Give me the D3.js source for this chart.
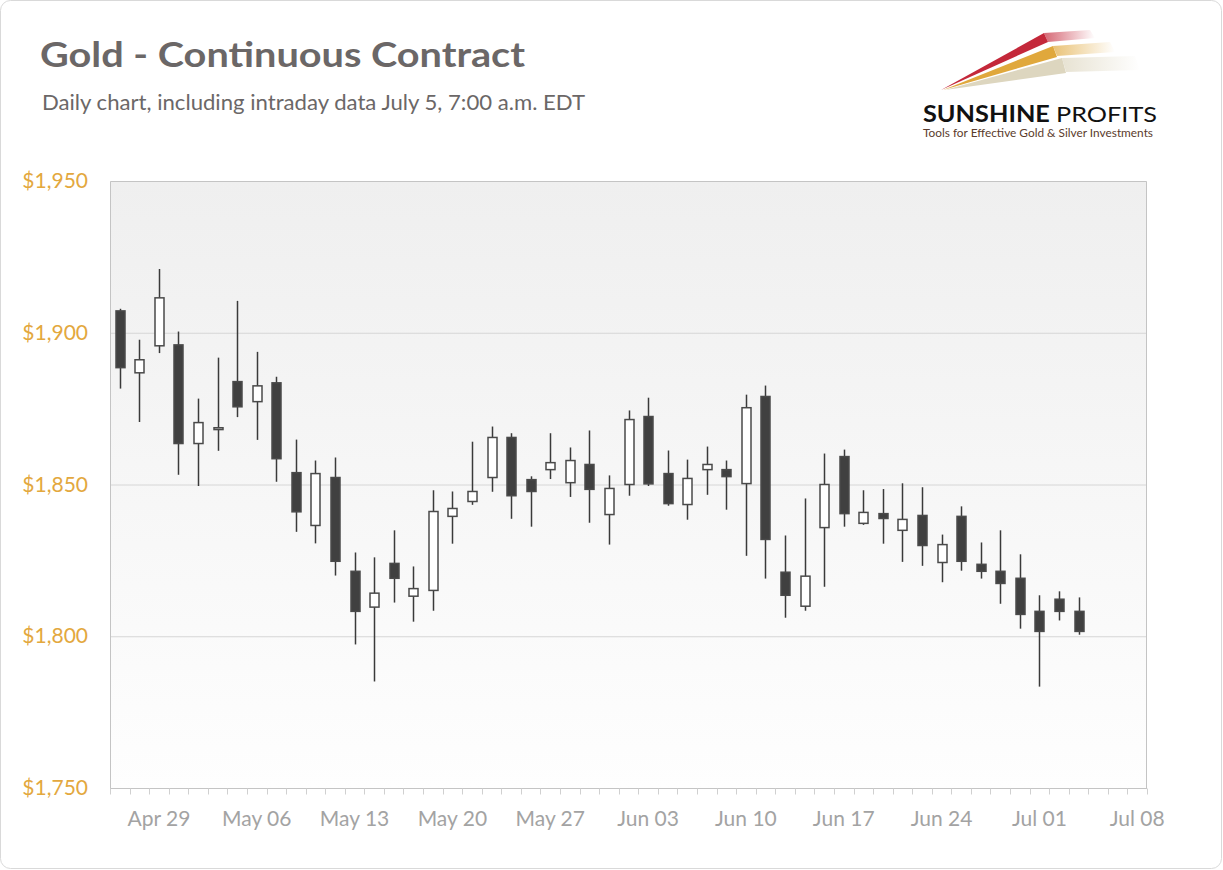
<!DOCTYPE html>
<html>
<head>
<meta charset="utf-8">
<script src="https://cdn.jsdelivr.net/npm/d3@7"></script>
<style>
  body { margin: 0; background: #fff; }
  svg { display: block; font-family: Lato, "Open Sans", sans-serif; }
</style>
</head>
<body>
<div id="chart"></div>
<script>
// --- Data ---
const dates = ["Apr 27","Apr 28","Apr 29","May 02","May 03","May 04","May 05","May 06",
  "May 09","May 10","May 11","May 12","May 13","May 16","May 17","May 18","May 19","May 20",
  "May 23","May 24","May 25","May 26","May 27","May 30","May 31","Jun 01","Jun 02","Jun 03",
  "Jun 06","Jun 07","Jun 08","Jun 09","Jun 10","Jun 13","Jun 14","Jun 15","Jun 16","Jun 17",
  "Jun 20","Jun 21","Jun 22","Jun 23","Jun 24","Jun 27","Jun 28","Jun 29","Jun 30","Jul 01",
  "Jul 04","Jul 05"];
const open  = [1907.2,1886.8,1895.7,1896.0,1863.5,1868.1,1883.9,1877.3,1883.5,1853.9,1836.5,1852.3,1821.4,1809.6,1824.0,1813.2,1815.1,1839.5,1844.4,1852.3,1865.5,1851.6,1854.9,1850.6,1856.6,1840.1,1850.0,1872.4,1853.6,1843.4,1854.9,1854.9,1850.3,1879.0,1821.1,1809.9,1835.8,1859.2,1837.2,1840.4,1834.9,1839.8,1824.3,1839.5,1823.7,1821.4,1819.1,1808.2,1812.2,1808.2];
const high  = [1907.9,1897.7,1921.0,1900.4,1878.3,1891.8,1910.5,1893.7,1885.5,1864.8,1857.9,1858.9,1827.6,1826.0,1834.9,1823.0,1848.1,1847.7,1864.1,1869.1,1866.9,1852.7,1866.9,1862.2,1867.8,1853.0,1874.4,1878.6,1861.2,1858.2,1862.5,1857.9,1879.6,1882.6,1833.2,1845.4,1860.2,1861.5,1848.1,1848.5,1850.4,1849.1,1833.5,1842.8,1830.9,1834.9,1827.0,1813.5,1814.8,1812.8];
const low   = [1881.6,1870.6,1893.3,1853.2,1849.5,1861.1,1872.2,1864.7,1850.9,1834.4,1830.6,1820.0,1797.3,1785.1,1811.1,1804.8,1808.4,1830.5,1843.3,1847.6,1838.7,1836.1,1851.8,1845.9,1837.4,1830.2,1846.3,1849.5,1843.0,1838.4,1846.6,1841.7,1826.5,1819.0,1806.1,1808.4,1816.3,1836.1,1836.7,1830.5,1824.5,1823.2,1817.8,1821.6,1819.0,1810.7,1802.5,1783.4,1805.2,1800.5];
const close = [1888.5,1891.1,1911.5,1863.5,1870.4,1868.7,1875.6,1882.5,1858.5,1841.0,1853.6,1824.7,1808.2,1814.2,1819.1,1815.7,1841.1,1842.1,1847.7,1865.5,1846.3,1847.7,1857.2,1857.9,1848.4,1848.7,1871.4,1850.2,1843.7,1852.0,1856.6,1852.6,1875.3,1831.9,1813.5,1819.8,1850.0,1840.4,1840.8,1838.8,1838.5,1829.9,1830.2,1824.7,1821.4,1817.4,1807.2,1801.6,1808.2,1801.6];

const tickIndex = [2,7,12,17,22,27,32,37,42,47,52];
const tickLabels = ["Apr 29","May 06","May 13","May 20","May 27","Jun 03","Jun 10","Jun 17","Jun 24","Jul 01","Jul 08"];
const priceTicks = [1750,1800,1850,1900,1950];

const candles = dates.map((d, i) => ({ i, date: d, o: open[i], h: high[i], l: low[i], c: close[i] }));

// --- Setup ---
const W = 1223, H = 870;
const plot = { left: 110, right: 1147, top: 181, bottom: 788 };
const svg = d3.select('#chart').append('svg').attr('width', W).attr('height', H);
const defs = svg.append('defs');

const x = d3.scaleLinear().domain([-0.5, 52.5]).range([plot.left, plot.right]);
const y = d3.scaleLinear().domain([1750, 1950]).range([plot.bottom, plot.top]);

// outer frame
svg.append('rect').attr('x', 0.5).attr('y', 0.5).attr('width', W - 2).attr('height', H - 2)
  .attr('rx', 10).attr('fill', '#fff').attr('stroke', '#d9d9d9');

// plot background gradient
const bg = defs.append('linearGradient').attr('id', 'bg').attr('x1', 0).attr('y1', 0).attr('x2', 0).attr('y2', 1);
bg.append('stop').attr('offset', 0).attr('stop-color', '#efefef');
bg.append('stop').attr('offset', 1).attr('stop-color', '#fefefe');
svg.append('rect').attr('x', plot.left).attr('y', plot.top)
  .attr('width', plot.right - plot.left).attr('height', plot.bottom - plot.top)
  .attr('fill', 'url(#bg)');

// gridlines
svg.append('g').selectAll('line').data(priceTicks.slice(1, -1)).join('line')
  .attr('x1', plot.left).attr('x2', plot.right)
  .attr('y1', d => y(d) + 0.5).attr('y2', d => y(d) + 0.5)
  .attr('stroke', '#d6d6d6');

// plot border
svg.append('path')
  .attr('d', `M${plot.left + 0.5},${plot.bottom} V${plot.top + 0.5} H${plot.right - 0.5} V${plot.bottom}`)
  .attr('fill', 'none').attr('stroke', '#c4c4c4');
svg.append('line').attr('x1', plot.left).attr('x2', plot.right)
  .attr('y1', plot.bottom + 0.5).attr('y2', plot.bottom + 0.5).attr('stroke', '#c4c4c4');

// x axis: minor ticks between sessions, labels on Fridays
const xAxis = svg.append('g').attr('transform', `translate(0,${plot.bottom + 0.5})`);
xAxis.selectAll('line').data(d3.range(-0.5, 53, 1)).join('line')
  .attr('x1', d => Math.round(x(d)) + 0.5).attr('x2', d => Math.round(x(d)) + 0.5)
  .attr('y1', 0).attr('y2', 6).attr('stroke', '#d0d0d0');
xAxis.selectAll('text').data(tickIndex).join('text')
  .attr('x', d => x(d)).attr('y', 37)
  .attr('text-anchor', 'middle').attr('fill', '#a3a3a3')
  .style('font-size', '21px')
  .text((d, k) => tickLabels[k]);

// y axis labels
svg.append('g').selectAll('text').data(priceTicks).join('text')
  .attr('x', 88).attr('y', d => y(d) + 7)
  .attr('text-anchor', 'end').attr('fill', '#e3a83e')
  .style('font-size', '21px')
  .text(d => '$' + d3.format(',')(d));

// candles
const bw = 9;
const cg = svg.append('g');
const candle = cg.selectAll('g').data(candles).join('g');
candle.append('line')
  .attr('x1', d => Math.round(x(d.i)) + 0.5).attr('x2', d => Math.round(x(d.i)) + 0.5)
  .attr('y1', d => y(d.h)).attr('y2', d => y(d.l))
  .attr('stroke', '#3a3a3a').attr('stroke-width', 1.5);
candle.append('rect')
  .attr('x', d => Math.round(x(d.i)) - bw / 2 + 0.5)
  .attr('y', d => y(Math.max(d.o, d.c)))
  .attr('width', bw)
  .attr('height', d => Math.max(1, Math.abs(y(d.o) - y(d.c))))
  .attr('fill', d => d.c >= d.o ? '#ffffff' : '#404040')
  .attr('stroke', '#4a4a4a').attr('stroke-width', 1.5);

// title
svg.append('text').attr('x', 40).attr('y', 67)
  .attr('fill', '#6b6767').style('font-size', '34px').style('font-weight', 700)
  .attr('textLength', 485).attr('lengthAdjust', 'spacingAndGlyphs')
  .text('Gold - Continuous Contract');
svg.append('text').attr('x', 42).attr('y', 110)
  .attr('fill', '#6b6767').style('font-size', '21px')
  .attr('textLength', 543).attr('lengthAdjust', 'spacingAndGlyphs')
  .text('Daily chart, including intraday data July 5, 7:00 a.m. EDT');

// logo
const logo = svg.append('g');
const fades = [
  { id: 'fr', col: '#c4283a' },
  { id: 'fg', col: '#e0a83c' },
  { id: 'fb', col: '#ddd6bf' }
];
fades.forEach(f => {
  const gr = defs.append('linearGradient').attr('id', f.id).attr('x1', 0).attr('x2', 1).attr('y1', 0).attr('y2', 0);
  gr.append('stop').attr('offset', 0).attr('stop-color', f.col).attr('stop-opacity', 0.7);
  gr.append('stop').attr('offset', 1).attr('stop-color', f.col).attr('stop-opacity', 0);
});
// faded trails
logo.append('path').attr('d', 'M1044,33 L1090,30 L1095,38 L1048,42 Z').attr('fill', 'url(#fr)');
logo.append('path').attr('d', 'M1053,46 L1110,42 L1115,52 L1057,56 Z').attr('fill', 'url(#fg)');
logo.append('path').attr('d', 'M1062,58 L1135,56 L1140,70 L1066,72 Z').attr('fill', 'url(#fb)');
// swooshes
logo.append('path').attr('d', 'M941,90 L1044,33 L1048,42 Z').attr('fill', '#c4283a');
logo.append('path').attr('d', 'M943,90 L1053,46 L1057,57 Z').attr('fill', '#e0a83c');
logo.append('path').attr('d', 'M945,90 L1062,58 L1066,73 Z').attr('fill', '#ddd6bf');
logo.append('text').attr('x', 923).attr('y', 122)
  .style('font-size', '22px').attr('fill', '#111')
  .attr('textLength', 234).attr('lengthAdjust', 'spacingAndGlyphs')
  .call(t => {
    t.append('tspan').style('font-weight', 700).text('SUNSHINE ');
    t.append('tspan').text('PROFITS');
  });
logo.append('text').attr('x', 923).attr('y', 137)
  .style('font-size', '11.5px').attr('fill', '#5b3b2c')
  .attr('textLength', 230).attr('lengthAdjust', 'spacingAndGlyphs')
  .text('Tools for Effective Gold & Silver Investments');
</script>
</body>
</html>
